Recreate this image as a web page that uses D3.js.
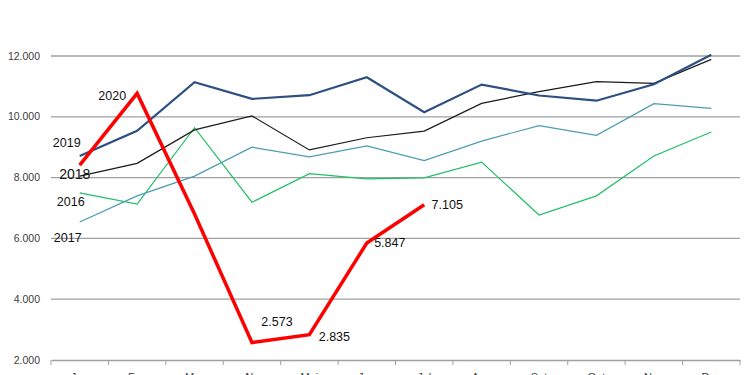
<!DOCTYPE html>
<html>
<head>
<meta charset="utf-8">
<script src="https://cdn.jsdelivr.net/npm/d3@7"></script>
<style>
  body { margin: 0; background: #fff; }
  text { font-family: "Liberation Sans", Arial, sans-serif; }
</style>
</head>
<body>
<div id="chart"></div>
<script>
// data
var months = ["Jan", "Fev", "Mar", "Abr", "Mai", "Jun", "Jul", "Ago", "Set", "Out", "Nov", "Dez"];
var yTicks = [2000, 4000, 6000, 8000, 10000, 12000];

var v2016 = [7500, 7130, 9640, 7190, 8130, 7960, 7990, 8510, 6770, 7400, 8710, 9500];
var v2017 = [6540, 7400, 8050, 9000, 8680, 9040, 8560, 9200, 9710, 9390, 10430, 10280];
var v2018 = [8050, 8470, 9570, 10030, 8910, 9310, 9530, 10440, 10830, 11160, 11100, 11890];
var v2019 = [8710, 9540, 11140, 10590, 10710, 11300, 10150, 11060, 10700, 10530, 11070, 12040];
var v2020 = [8410, 10770, 6800, 2573, 2835, 5847, 7105];

var width = 750, height = 375;
var margin = {top: 56, right: 10, bottom: 15, left: 51};

var svg = d3.select("#chart")
  .append("svg")
    .attr("width", width)
    .attr("height", height);

var x = d3.scaleBand()
  .domain(months)
  .range([margin.left, width - margin.right]);

var y = d3.scaleLinear()
  .domain([2000, 12000])
  .range([height - margin.bottom, margin.top]);

var fmt = d3.formatLocale({decimal: ",", thousands: ".", grouping: [3], currency: ["", ""]}).format(",.0f");

// gridlines
svg.append("g")
  .selectAll("line")
  .data(yTicks.slice(1))
  .enter()
  .append("line")
    .attr("x1", margin.left)
    .attr("x2", width - margin.right)
    .attr("y1", function(d) { return y(d); })
    .attr("y2", function(d) { return y(d); })
    .attr("stroke", "#a0a0a0")
    .attr("stroke-width", 1.3);

// y axis labels
svg.append("g")
  .selectAll("text")
  .data(yTicks)
  .enter()
  .append("text")
    .attr("x", 40)
    .attr("y", function(d) { return y(d); })
    .attr("dy", "0.35em")
    .attr("text-anchor", "end")
    .attr("font-size", 10.5)
    .attr("fill", "#404040")
    .text(function(d) { return fmt(d); });

// x axis
var xAxis = d3.axisBottom(x).tickSize(0).tickPadding(0);
var gx = svg.append("g")
  .attr("transform", "translate(0," + y(2000) + ")")
  .call(xAxis);
gx.select(".domain").attr("stroke", "#a0a0a0").attr("stroke-width", 1.3);
gx.selectAll(".tick text")
  .attr("dy", "1.05em")
  .attr("font-size", 11)
  .attr("font-family", "Liberation Sans, Arial, sans-serif")
  .attr("fill", "#404040")
  .attr("transform", "translate(0,9)");

// tick marks at band edges
var edges = months.map(function(m) { return x(m); }).concat([x(months[11]) + x.bandwidth()]);
svg.append("g")
  .selectAll("line")
  .data(edges)
  .enter()
  .append("line")
    .attr("x1", function(d) { return d; })
    .attr("x2", function(d) { return d; })
    .attr("y1", y(2000))
    .attr("y2", y(2000) + 5)
    .attr("stroke", "#a0a0a0")
    .attr("stroke-width", 1);

var line = d3.line()
  .x(function(d, i) { return x(months[i]) + x.bandwidth() / 2; })
  .y(function(d) { return y(d); });

var series = [
  {name: "2016", values: v2016, color: "#21c063", w: 1.2, lx: -9, ly: 9},
  {name: "2017", values: v2017, color: "#4a9bb3", w: 1.2, lx: -12, ly: 16},
  {name: "2018", values: v2018, color: "#1a1a1a", w: 1.2, lx: -5, ly: -2},
  {name: "2019", values: v2019, color: "#2d4f82", w: 2.2, lx: -13, ly: -13},
  {name: "2020", values: v2020, color: "#ff0000", w: 3.5, lx: 0, ly: 0}
];

svg.selectAll(".serie")
  .data(series)
  .enter()
  .append("path")
    .attr("class", "serie")
    .attr("d", function(d) { return line(d.values); })
    .attr("fill", "none")
    .attr("stroke", function(d) { return d.color; })
    .attr("stroke-width", function(d) { return d.w; })
    .attr("stroke-linejoin", "miter");

// series name labels near the first point
svg.selectAll(".slabel")
  .data(series.slice(0, 4))
  .enter()
  .append("text")
    .attr("class", "slabel")
    .attr("x", function(d) { return x(months[0]) + x.bandwidth() / 2 + d.lx; })
    .attr("y", function(d) { return y(d.values[0]) + d.ly; })
    .attr("dy", "0.35em")
    .attr("text-anchor", "middle")
    .attr("font-size", function(d) { return d.name == "2018" ? 14 : 12.5; })
    .attr("fill", "#111")
    .text(function(d) { return d.name; });

// 2020 label left of the Feb peak
svg.append("text")
  .attr("x", x(months[1]) + x.bandwidth() / 2 - 11)
  .attr("y", y(v2020[1]) + 2)
  .attr("dy", "0.35em")
  .attr("text-anchor", "end")
  .attr("font-size", 12.5)
  .attr("fill", "#111")
  .text("2020");

// value labels for 2020 (Apr..Jul)
var valueLabels = [
  {i: 3, dx: 25, dy: -21},
  {i: 4, dx: 25, dy: 2},
  {i: 5, dx: 23, dy: 0},
  {i: 6, dx: 23, dy: 0}
];
svg.selectAll(".vlabel")
  .data(valueLabels)
  .enter()
  .append("text")
    .attr("class", "vlabel")
    .attr("x", function(d) { return x(months[d.i]) + x.bandwidth() / 2 + d.dx; })
    .attr("y", function(d) { return y(v2020[d.i]) + d.dy; })
    .attr("dy", "0.35em")
    .attr("text-anchor", "middle")
    .attr("font-size", 12.5)
    .attr("fill", "#111")
    .text(function(d) { return fmt(v2020[d.i]); });
</script>
</body>
</html>
